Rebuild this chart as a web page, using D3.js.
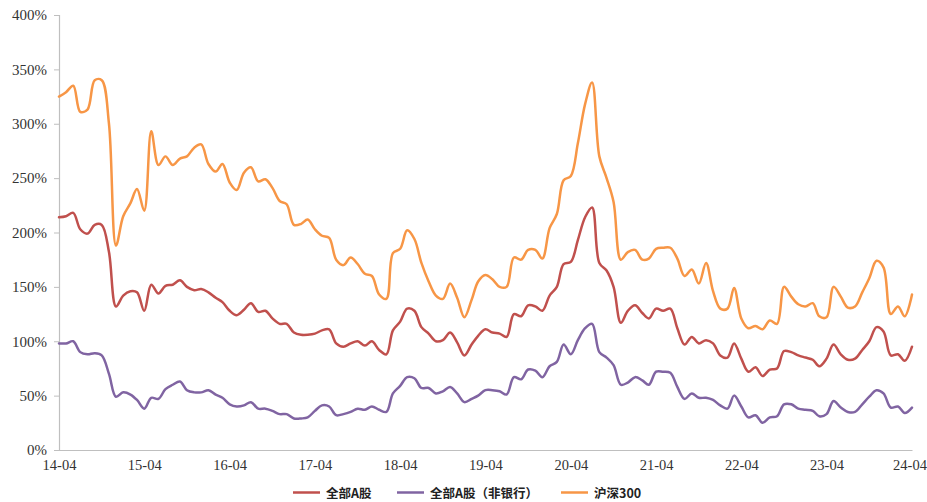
<!DOCTYPE html>
<html>
<head>
<meta charset="utf-8">
<script src="https://cdn.jsdelivr.net/npm/d3@7"></script>
<style>
  html, body { margin: 0; padding: 0; background: #fff; }
  svg { display: block; }
  .tick-label { font-family: "Liberation Serif", "Times New Roman", serif; fill: #333; }
  .legend-text { font-family: "Noto Sans CJK SC", sans-serif; font-weight: 700; font-size: 12.5px; fill: #222; }
</style>
</head>
<body>
<svg id="chart" width="927" height="502"></svg>
<script>
// Monthly observations, April 2014 through April 2024 (121 months)
const startYear = 2014, startMonth = 3; // April (0-based month)
const monthCount = 121;
const months = d3.range(monthCount).map(i => new Date(startYear, startMonth + i, 1));

const seriesNames = ["全部A股", "全部A股（非银行）", "沪深300"];
const seriesColors = ["#c0504d", "#8064a2", "#f79646"];

// 全部A股 (%)
const allA = [
  214, 215, 218, 203, 199, 207, 207, 182, 132, 142, 146, 145,
  128, 152, 144, 151, 152, 156, 150, 147, 148, 145, 140, 136,
  128, 124, 129, 135, 127, 128, 121, 116, 116, 108, 106, 106,
  107, 110, 111, 98, 95, 98, 100, 96, 100, 92, 88, 110,
  118, 130, 128, 113, 107, 100, 101, 108, 99, 87, 97, 105,
  111, 108, 107, 104, 125, 123, 133, 132, 128, 142, 150, 171,
  173, 193, 214, 223, 172, 165, 150, 117, 128, 133, 126, 121,
  130, 128, 130, 112, 97, 104, 98, 101, 98, 87, 85, 98,
  84, 72, 76, 68, 74, 75, 91, 90, 87, 85, 83, 77,
  84, 97, 88, 83, 84, 92, 100, 113, 109, 87, 88, 82,
  95
];

// 全部A股（非银行） (%)
const allAExBank = [
  98, 98, 100, 90, 88, 89, 87, 70, 49, 53, 51, 46,
  38, 48, 47, 56, 60, 63, 55, 53, 53, 55, 51, 48,
  42, 40, 41, 44, 38, 38, 36, 33, 33, 29, 29, 30,
  36, 41, 40, 32, 33, 35, 38, 37, 40, 37, 35, 52,
  59, 67, 66, 57, 57, 52, 54, 58, 52, 44, 47, 50,
  55, 55, 54, 51, 67, 65, 74, 73, 67, 77, 81, 97,
  88, 101, 112, 116, 90, 85, 78, 60, 62, 67, 64, 60,
  72, 72, 71, 58, 47, 52, 48, 48, 46, 41, 38, 50,
  40, 30, 32, 25, 30, 31, 42, 42, 38, 37, 36, 31,
  33, 45, 39, 35, 35, 42, 49, 55, 52, 39, 40, 34,
  39
];

// 沪深300 (%)
const csi300 = [
  325, 329, 335, 311, 313, 340, 340, 300, 188, 215, 227, 240,
  220, 293, 262, 270, 262, 268, 270, 278, 281, 263, 256, 263,
  246, 239, 255, 260, 247, 249, 241, 229, 226, 207, 208, 212,
  203, 197, 195, 175, 170, 177, 171, 162, 160, 143, 139, 181,
  185, 202, 194, 172, 155, 142, 139, 153, 140, 122, 138, 155,
  161, 157, 150, 150, 177, 175, 184, 184, 176, 204, 217, 248,
  252, 282, 318, 338, 270, 250, 228, 175, 182, 184, 175, 176,
  185, 186, 186, 176, 160, 166, 153, 172, 146, 130, 130, 149,
  121, 112, 114, 111, 119, 116, 150, 141, 134, 132, 135, 123,
  122, 150, 141, 131, 132, 145, 158, 174, 168, 125, 132, 123,
  143
];

const seriesValues = [allA, allAExBank, csi300];

const yTickValues = [0, 50, 100, 150, 200, 250, 300, 350, 400];
const xTickLabels = ["14-04", "15-04", "16-04", "17-04", "18-04", "19-04",
                     "20-04", "21-04", "22-04", "23-04", "24-04"];
const xTickDates = xTickLabels.map((_, k) => new Date(startYear + k, startMonth, 1));

const svg = d3.select("#chart");
const plot = { left: 59, right: 912, top: 15, bottom: 450 };

const x = d3.scaleTime()
  .domain([months[0], months[monthCount - 1]])
  .range([plot.left, plot.right]);

const y = d3.scaleLinear()
  .domain([0, 400])
  .range([plot.bottom, plot.top]);

// Y axis
const yAxis = svg.append("g")
  .attr("transform", `translate(${plot.left},0)`)
  .call(d3.axisLeft(y).tickValues(yTickValues).tickSize(5).tickPadding(7)
    .tickFormat(d => d + "%"));
yAxis.select(".domain").attr("stroke", "#bfbfbf").attr("stroke-width", 1.2);
yAxis.selectAll(".tick line").attr("stroke", "#bfbfbf");
yAxis.selectAll(".tick text").attr("class", "tick-label").attr("font-size", 15);

// X axis
const xAxis = svg.append("g")
  .attr("transform", `translate(0,${plot.bottom})`)
  .call(d3.axisBottom(x).tickValues(xTickDates).tickSize(0).tickPadding(10)
    .tickFormat((d, i) => xTickLabels[i]));
xAxis.select(".domain").attr("stroke", "#bfbfbf").attr("stroke-width", 1.2);
xAxis.selectAll(".tick text").attr("class", "tick-label").attr("font-size", 14.5);
// keep the last date label inside the canvas
xAxis.selectAll(".tick text").filter((d, i, nodes) => i === nodes.length - 1)
  .attr("dx", -2.5);

// Smoothed series lines
const line = d3.line()
  .x((d, i) => x(months[i]))
  .y(d => y(d))
  .curve(d3.curveCatmullRom.alpha(0.5));

svg.append("g")
  .selectAll("path")
  .data(seriesValues)
  .join("path")
  .attr("d", d => line(d))
  .attr("fill", "none")
  .attr("stroke", (d, i) => seriesColors[i])
  .attr("stroke-width", 2.5)
  .attr("stroke-linejoin", "round")
  .attr("stroke-linecap", "round");

// Legend
const legendY = 492.5;
const legendItems = [
  { x: 293, name: seriesNames[0], color: seriesColors[0] },
  { x: 397, name: seriesNames[1], color: seriesColors[1] },
  { x: 561, name: seriesNames[2], color: seriesColors[2] }
];
const legend = svg.append("g");
const item = legend.selectAll("g").data(legendItems).join("g")
  .attr("transform", d => `translate(${d.x},${legendY})`);
item.append("line")
  .attr("x1", 0).attr("x2", 27).attr("y1", 0).attr("y2", 0)
  .attr("stroke", d => d.color).attr("stroke-width", 2.5);
item.append("text")
  .attr("class", "legend-text")
  .attr("x", 33).attr("y", 0)
  .attr("dominant-baseline", "central")
  .text(d => d.name);
</script>
</body>
</html>
